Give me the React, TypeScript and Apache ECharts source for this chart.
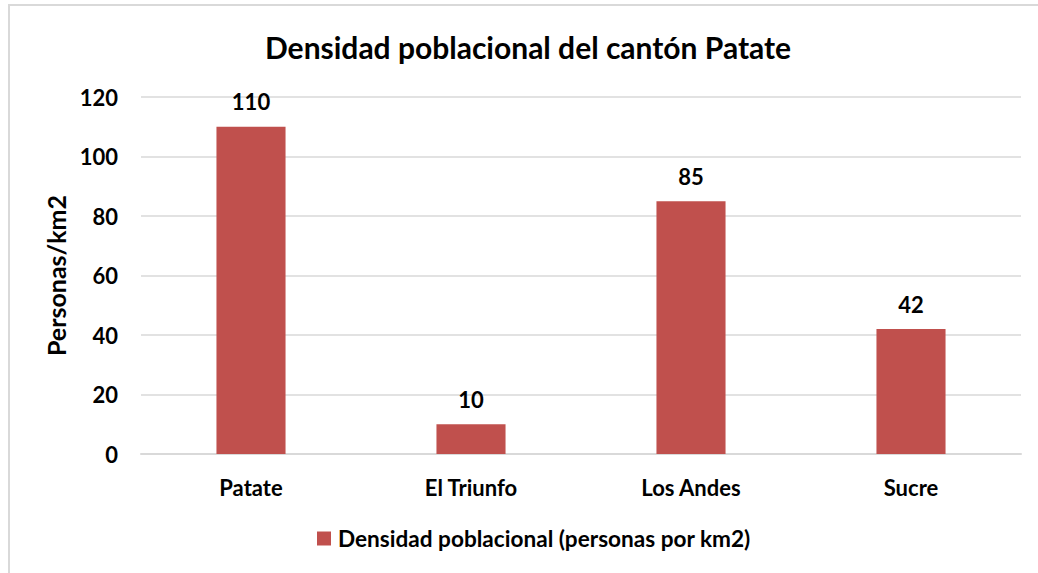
import React, { useEffect, useRef } from "react";
import * as echarts from "echarts";

const categories = ["Patate", "El Triunfo", "Los Andes", "Sucre"];
const densityValues = [110, 10, 85, 42];
const seriesName = "Densidad poblacional (personas por km2)";
const titleText = "Densidad poblacional del cantón Patate";
const yAxisName = "Personas/km2";

const FONT = "Lato, 'Open Sans', sans-serif";

export default function App() {
  const ref = useRef<HTMLDivElement>(null);
  useEffect(() => {
    if (!ref.current) return;
    const chart = echarts.init(ref.current, null, { renderer: "svg" });
    chart.setOption({
      animation: false,
      backgroundColor: "#ffffff",
      title: {
        text: titleText,
        left: 260,
        top: 27,
        textStyle: { fontFamily: FONT, fontWeight: "bold", fontSize: 30, color: "#000" },
      },
      graphic: [
        {
          type: "rect",
          shape: { x: 9, y: 5, width: 1200, height: 800 },
          style: { fill: "none", stroke: "#d9d9d9", lineWidth: 2 },
          silent: true,
        },
      ],
      legend: {
        bottom: 18,
        left: 312,
        itemWidth: 14,
        itemHeight: 14,
        icon: "rect",
        textStyle: {
          fontFamily: FONT,
          fontWeight: "bold",
          fontSize: 22.6,
          color: "#000",
          padding: [0, 0, 0, 2],
        },
        data: [seriesName],
      },
      grid: { left: 141, right: 17, top: 97, bottom: 119 },
      xAxis: {
        type: "category",
        data: categories,
        axisLine: { lineStyle: { color: "#d9d9d9", width: 2 } },
        axisTick: { show: false },
        axisLabel: { fontFamily: FONT, fontWeight: "bold", fontSize: 22, color: "#000", margin: 22 },
      },
      yAxis: {
        type: "value",
        min: 0,
        max: 120,
        interval: 20,
        name: yAxisName,
        nameLocation: "middle",
        nameGap: 66,
        nameTextStyle: { fontFamily: FONT, fontWeight: "bold", fontSize: 25, color: "#000" },
        axisLine: { show: false },
        axisTick: { show: false },
        splitLine: { lineStyle: { color: "#d9d9d9", width: 1.5 } },
        axisLabel: { fontFamily: FONT, fontWeight: "bold", fontSize: 22, color: "#000", margin: 23 },
      },
      series: [
        {
          name: seriesName,
          type: "bar",
          data: densityValues,
          barWidth: "31.4%",
          itemStyle: { color: "#C0504D" },
          label: {
            show: true,
            position: "top",
            distance: 14,
            fontFamily: FONT,
            fontWeight: "bold",
            fontSize: 22,
            color: "#000",
          },
        },
      ],
    });
    return () => chart.dispose();
  }, []);
  return (
    <div
      ref={ref}
      style={{ position: "absolute", left: 0, top: 0, width: 1038, height: 573, overflow: "hidden" }}
    />
  );
}
